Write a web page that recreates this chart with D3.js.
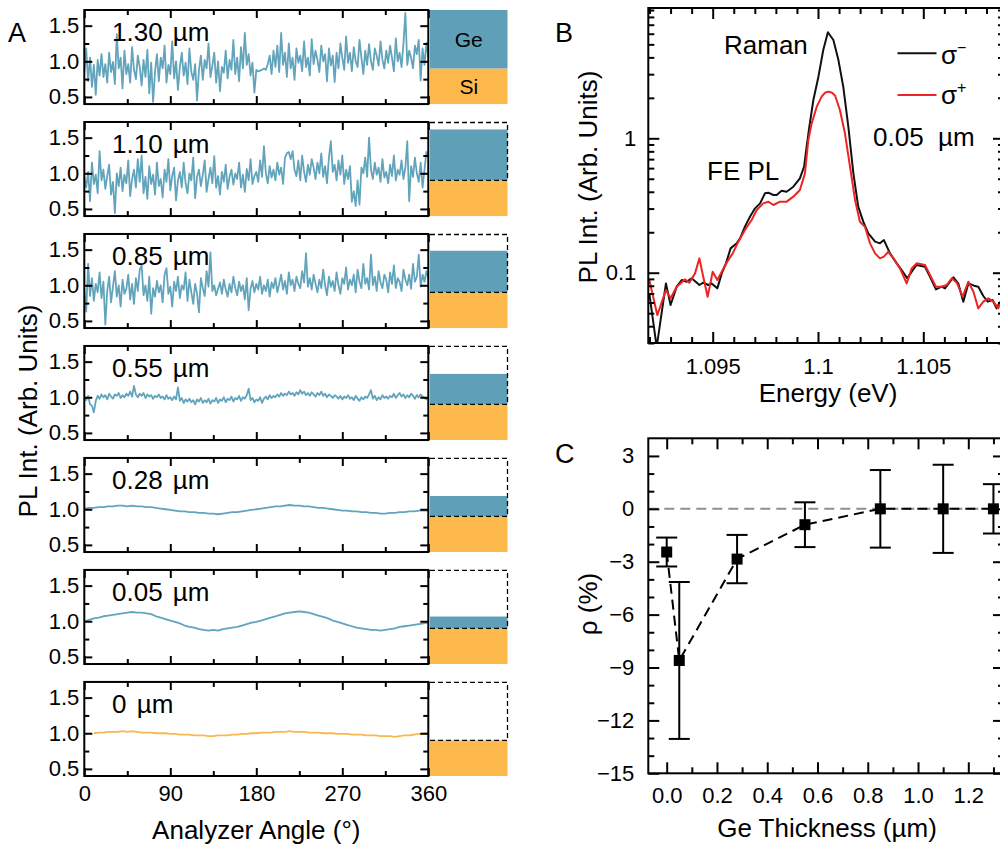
<!DOCTYPE html>
<html><head><meta charset="utf-8">
<script src="https://cdn.jsdelivr.net/npm/d3@7"></script>
<style>
body{margin:0;background:#fff}
svg{display:block}
text{font-family:"Liberation Sans",Arial,Helvetica,sans-serif;fill:#000}
</style>
</head><body>
<svg id="c" width="1000" height="844"></svg>
<script>
// ---------------- DATA ----------------
// Panel A
const rowLabels = ["1.30 µm","1.10 µm","0.85 µm","0.55 µm","0.28 µm","0.05 µm","0 µm"];
const geThickness = [1.30,1.10,0.85,0.55,0.28,0.05,0];
const angleMajor = [0,90,180,270,360];
const angleMinor = [45,135,225,315];
const plMajor = [0.5,1.0,1.5];
const plMinor = [0.75,1.25];
// traces sampled every 2 deg from 0 to 360
const trace130 = [
0.85,1.18,0.72,1.05,0.64,0.95,0.53,1.02,0.80,1.10,
0.78,0.96,0.70,1.12,0.85,0.99,0.68,1.38,0.90,1.05,
0.62,1.15,0.82,0.96,0.70,1.20,0.88,0.75,1.08,0.92,
0.66,1.02,0.78,1.16,0.55,0.98,0.43,0.85,1.10,0.72,
1.05,0.90,1.22,0.70,0.95,0.82,1.28,0.76,1.00,0.60,
0.92,1.12,0.80,0.98,0.68,1.18,0.85,0.74,0.96,0.45,
0.88,1.08,0.74,1.02,0.90,1.25,0.78,0.94,1.12,0.70,
1.00,0.58,0.92,0.84,1.15,0.76,1.02,0.88,1.30,0.82,
1.05,0.72,1.20,0.90,1.40,0.95,1.10,0.80,0.98,0.56,
0.88,0.86,0.87,0.88,0.90,0.88,0.96,1.08,0.82,1.15,
0.92,1.22,0.85,1.40,0.95,1.12,0.78,1.25,0.90,1.05,
0.74,1.18,0.98,1.08,0.86,1.28,0.92,1.05,0.80,1.31,
0.96,1.15,1.02,0.85,1.22,1.00,1.10,0.72,1.18,0.94,
1.08,0.71,1.12,0.90,1.25,1.05,0.88,1.35,0.98,1.12,
0.86,1.20,1.00,0.92,1.30,1.05,0.82,1.15,0.95,1.24,
1.00,0.88,1.18,1.08,0.94,1.28,1.02,0.90,1.15,0.98,
1.22,1.05,0.86,1.32,1.00,1.12,0.92,1.25,1.68,0.95,
1.15,1.05,0.90,1.22,1.10,1.30,0.73,1.18,0.95,1.26,
1.05];
const trace110 = [
0.95,0.80,1.02,0.61,1.15,0.85,0.98,0.72,1.31,0.90,
1.05,0.78,0.96,1.12,0.70,0.88,0.44,1.00,0.82,1.08,
0.75,0.98,0.86,1.18,0.68,0.92,1.05,0.80,1.20,0.88,
1.25,0.72,0.95,0.64,1.10,0.85,0.98,0.70,1.15,0.82,
0.92,0.66,1.05,0.88,1.20,0.76,0.96,1.08,0.62,0.90,
1.02,0.80,1.15,0.86,0.72,1.00,0.90,1.22,0.65,0.95,
1.05,0.82,0.98,1.18,0.74,0.92,1.08,0.86,1.24,0.80,
0.96,0.70,1.02,0.88,1.12,0.78,0.95,1.05,0.84,1.00,
0.92,1.15,0.80,0.98,0.74,1.06,0.90,1.20,0.85,0.96,
1.02,0.88,1.18,0.95,1.38,1.00,0.86,1.10,0.94,1.05,
0.90,1.15,0.98,1.08,0.85,1.22,1.28,1.30,1.20,1.31,
1.05,0.96,1.18,0.90,1.25,1.02,0.88,1.12,0.98,1.20,
1.08,0.92,1.15,1.00,1.28,0.95,1.10,0.86,1.22,1.45,
1.02,1.12,0.90,1.18,0.98,1.25,0.85,1.05,0.92,1.10,
0.60,0.75,0.54,0.90,0.56,1.08,1.00,1.22,0.95,1.50,
1.05,0.92,1.15,0.98,1.08,0.88,1.20,0.94,1.02,0.86,
1.12,0.96,1.25,0.90,1.05,0.98,1.18,0.92,1.08,1.45,
0.61,1.10,0.95,1.22,1.00,0.88,1.15,0.80,1.05,1.30,
1.25];
const trace085 = [
0.95,0.63,1.30,0.85,1.10,0.78,1.02,0.90,1.18,0.82,
1.05,0.45,0.92,1.12,0.76,0.98,1.20,0.84,1.00,0.70,
1.08,0.88,0.95,1.15,0.80,1.02,0.74,1.10,0.92,1.22,
1.28,0.86,1.00,0.78,1.12,0.60,0.96,0.84,1.06,0.90,
1.00,0.76,1.15,1.24,0.88,0.98,0.70,1.05,0.92,1.12,
0.82,1.00,0.94,1.18,0.78,1.08,0.90,0.74,1.02,0.88,
0.62,1.10,0.96,0.85,1.20,0.98,1.46,0.92,1.00,0.86,
0.95,1.04,0.88,1.08,0.94,0.84,1.02,0.90,1.12,0.96,
0.86,1.05,0.92,1.00,0.80,1.10,0.65,0.95,1.06,0.90,
1.02,0.94,1.12,0.88,1.00,0.92,1.08,0.84,1.04,0.96,
1.10,0.90,1.02,1.15,0.94,1.06,0.88,1.18,1.00,1.08,
0.92,1.12,1.02,0.96,1.20,1.04,1.45,0.98,1.10,0.94,
1.15,1.02,0.90,1.08,0.96,1.22,1.00,0.86,1.12,0.98,
1.06,0.92,1.18,1.00,0.88,1.10,1.02,1.25,0.94,1.08,
1.00,1.15,0.90,1.22,1.05,0.96,1.30,1.02,1.10,0.94,
1.43,1.00,1.12,0.92,1.20,1.04,0.96,1.15,1.08,0.90,
1.18,1.02,1.28,0.96,1.10,1.05,0.92,1.22,1.08,1.00,
1.15,0.95,1.30,1.05,1.12,1.43,0.98,1.15,1.05,1.20,
1.10];
const trace055 = [
1.00,0.96,1.02,0.90,0.88,0.79,0.95,1.02,0.98,1.04,
1.00,1.03,0.97,1.05,1.01,0.98,1.04,1.02,1.06,0.99,
1.03,1.00,1.05,1.02,1.08,1.01,1.16,1.04,1.00,1.05,
1.02,1.06,0.99,1.04,1.01,1.03,0.98,1.02,1.00,1.04,
0.99,1.01,0.97,1.03,0.98,1.00,0.96,1.01,0.97,1.14,
0.95,0.99,0.92,0.97,0.94,0.98,0.93,0.96,0.90,0.97,
0.94,0.99,0.92,0.96,0.93,0.98,0.91,0.96,0.94,0.99,
0.92,0.97,0.95,1.00,0.93,0.98,0.96,1.01,0.94,0.99,
0.97,1.02,0.95,1.00,0.98,1.03,1.12,0.96,0.99,0.93,
0.97,0.95,1.00,0.92,0.98,1.01,0.97,1.03,0.99,1.02,
1.00,1.04,1.01,1.06,1.02,1.05,1.03,1.08,1.04,1.06,
1.02,1.07,1.04,1.10,1.05,1.08,1.03,1.06,1.02,1.07,
1.04,1.01,1.06,1.03,1.08,1.02,1.05,1.00,1.04,1.02,
0.99,1.03,1.01,0.98,1.02,0.97,1.01,0.99,1.03,0.98,
1.00,0.96,1.02,0.98,0.95,1.00,0.97,1.01,0.99,1.04,
1.10,0.98,1.02,0.96,1.00,0.97,1.03,0.99,1.01,0.98,
1.02,1.00,1.05,0.99,1.03,1.06,1.01,1.04,0.99,1.03,
1.00,1.05,1.02,0.98,1.03,1.00,1.04,1.01,0.99,0.97,
1.00];
// traces sampled every 5 deg
const trace028 = [
1.01,1.02,1.02,1.03,1.03,1.04,1.04,1.05,1.05,1.04,1.05,1.04,1.04,1.03,1.03,1.02,1.01,1.00,
0.99,0.98,0.97,0.97,0.96,0.96,0.95,0.95,0.94,0.94,0.93,0.94,0.95,0.96,0.96,0.97,0.98,0.99,
1.00,1.01,1.02,1.03,1.04,1.04,1.05,1.06,1.05,1.05,1.04,1.04,1.03,1.02,1.02,1.01,1.00,0.99,
0.98,0.98,0.97,0.97,0.96,0.96,0.95,0.95,0.94,0.94,0.95,0.95,0.96,0.96,0.97,0.97,0.98,0.98,
0.98];
const trace005 = [
1.00,1.02,1.04,1.05,1.07,1.08,1.09,1.10,1.11,1.12,1.13,1.12,1.12,1.11,1.10,1.07,1.05,1.03,
1.01,0.99,0.97,0.94,0.92,0.91,0.89,0.88,0.87,0.88,0.87,0.89,0.90,0.91,0.92,0.94,0.96,0.98,
0.99,1.01,1.03,1.05,1.07,1.09,1.11,1.12,1.13,1.14,1.13,1.12,1.10,1.08,1.06,1.04,1.01,0.99,
0.97,0.95,0.93,0.91,0.90,0.89,0.88,0.88,0.87,0.88,0.89,0.90,0.92,0.93,0.94,0.95,0.96,0.97,
0.98];
// bare Si, sampled every 5 deg from 10 to 360
const trace000 = [
1.00,1.01,1.01,1.02,1.02,1.02,1.03,1.02,1.03,1.02,1.01,1.01,1.01,1.00,1.00,1.00,
0.99,0.99,0.98,0.98,0.98,0.97,0.97,0.97,0.96,0.96,0.97,0.97,0.97,0.98,0.98,0.99,0.99,1.00,
1.00,1.01,1.01,1.01,1.02,1.02,1.02,1.03,1.02,1.02,1.02,1.01,1.01,1.01,1.00,1.00,1.00,
0.99,0.99,0.99,0.98,0.98,0.98,0.97,0.97,0.97,0.96,0.96,0.96,0.95,0.96,0.97,0.97,0.98,0.99,0.99,
1.00];

// Panel B
const energyBlack = [1.09199,1.09234,1.09278,1.09300,1.09329,1.09353,1.09376,1.09400,1.09437,1.09455,
1.09479,1.09495,1.09522,1.09543,1.09563,1.09585,1.09614,1.09630,1.09653,1.09677,
1.09701,1.09725,1.09748,1.09764,1.09788,1.09804,1.09827,1.09851,1.09883,1.09914,
1.09934,1.09946,1.09959,1.09978,1.10002,1.10025,1.10047,1.10073,1.10097,1.10120,
1.10144,1.10168,1.10191,1.10215,1.10239,1.10271,1.10294,1.10313,1.10342,1.10374,
1.10397,1.10424,1.10445,1.10468,1.10508,1.10532,1.10560,1.10587,1.10603,1.10627,
1.10643,1.10666,1.10690,1.10714,1.10741,1.10761,1.10785,1.10806,1.10829,1.10848,1.10864];
const plBlack = [0.0702,0.028,0.0833,0.0575,0.0787,0.0882,0.0857,0.0908,0.0810,0.0843,
0.0810,0.0833,0.0765,0.0989,0.1174,0.1518,0.1654,0.1801,0.2201,0.2611,
0.3012,0.3282,0.3895,0.3940,0.3786,0.3786,0.4076,0.4007,0.4366,0.5036,
0.6150,0.8665,1.220,1.927,2.874,4.539,6.15,5.39,3.82,2.42,
1.221,0.5486,0.310,0.2397,0.1963,0.1702,0.1654,0.1750,0.1393,0.1174,
0.1047,0.0908,0.1018,0.1141,0.1109,0.0934,0.0752,0.0787,0.0765,0.0857,
0.0923,0.0833,0.0609,0.0833,0.0801,0.0787,0.0671,0.0609,0.0626,0.0543,0.0609];
const energyRed = [1.09199,1.09237,1.09278,1.09300,1.09329,1.09368,1.09389,1.09416,1.09437,1.09455,
1.09476,1.09500,1.09522,1.09543,1.09569,1.09595,1.09622,1.09653,1.09685,1.09709,
1.09740,1.09764,1.09788,1.09820,1.09851,1.09883,1.09914,1.09938,1.09954,1.09970,
1.09994,1.10017,1.10033,1.10049,1.10065,1.10081,1.10104,1.10128,1.10152,1.10176,
1.10199,1.10223,1.10247,1.10271,1.10294,1.10313,1.10334,1.10358,1.10389,1.10421,
1.10445,1.10468,1.10508,1.10532,1.10560,1.10587,1.10611,1.10635,1.10659,1.10687,
1.10714,1.10738,1.10761,1.10785,1.10809,1.10833,1.10856,1.10864];
const plRed = [0.0882,0.0484,0.0743,0.0645,0.0787,0.0892,0.0843,0.0989,0.1279,0.0934,
0.0663,0.1018,0.0882,0.1018,0.1208,0.1393,0.1702,0.2078,0.2466,0.2927,
0.3282,0.3377,0.3190,0.3377,0.3377,0.3679,0.4123,0.5486,0.9712,1.292,
1.719,2.040,2.180,2.223,2.190,2.080,1.624,1.089,0.615,0.3474,
0.2397,0.2201,0.1654,0.1393,0.1279,0.1316,0.1433,0.1279,0.1078,0.0833,
0.1078,0.1174,0.1141,0.0961,0.0787,0.0787,0.0810,0.0908,0.0843,0.0663,
0.0857,0.0722,0.0543,0.0609,0.0645,0.0609,0.0543,0.0592];
const energyMajor = [1.095,1.1,1.105];
const plLogMajor = [0.1,1];
const plLogMinor = [0.03,0.04,0.05,0.06,0.07,0.08,0.09,0.2,0.3,0.4,0.5,0.6,0.7,0.8,0.9,2,3,4,5,6,7,8,9];

// Panel C
const geThick = [0,0.05,0.28,0.55,0.85,1.10,1.30];
const rho = [-2.45,-8.6,-2.85,-0.9,0,0,0];
const rhoErr = [0.82,4.45,1.37,1.27,2.2,2.5,1.4];
const thickMajor = [0,0.2,0.4,0.6,0.8,1.0,1.2];
const thickMinor = [0.1,0.3,0.5,0.7,0.9,1.1,1.3];
const rhoMajor = [3,0,-3,-6,-9,-12,-15];
const rhoMinor = [2,1,-1,-2,-4,-5,-7,-8,-10,-11,-13,-14];

// ---------------- DRAWING ----------------
const svg = d3.select("#c");
const FONT = '"Liberation Sans",Arial,Helvetica,sans-serif';
const BLUE = "#62a4bc", GEBOX = "#5fa0b8", SIBOX = "#fdb84b", ORANGE = "#f9b74f";

function addAxis(g, axisFn, scale, tr, values, len, fmt, pad, fs) {
  const a = axisFn(scale).tickValues(values).tickSize(-len).tickPadding(pad || 3)
    .tickFormat(fmt || (() => ""));
  const s = g.append("g").attr("transform", tr).call(a);
  s.select(".domain").remove();
  s.attr("font-family", null).attr("font-size", null);
  s.selectAll("line").attr("stroke", "#000").attr("stroke-width", 2);
  s.selectAll("text").attr("fill", "#000").style("font-size", (fs || 22) + "px").style("font-family", FONT);
  return s;
}
function frame(g, x0, y0, x1, y1) {
  g.append("rect").attr("x", x0).attr("y", y0).attr("width", x1 - x0).attr("height", y1 - y0)
    .attr("fill", "none").attr("stroke", "#000").attr("stroke-width", 2);
}

// ---- Panel A ----
const series = [
  {vals: trace130, start: 0, step: 2, color: BLUE},
  {vals: trace110, start: 0, step: 2, color: BLUE},
  {vals: trace085, start: 0, step: 2, color: BLUE},
  {vals: trace055, start: 0, step: 2, color: BLUE},
  {vals: trace028, start: 0, step: 5, color: BLUE},
  {vals: trace005, start: 0, step: 5, color: BLUE},
  {vals: trace000, start: 10, step: 5, color: ORANGE}
];
const xA = d3.scaleLinear().domain([0, 360]).range([84.3, 428.3]);
const band = d3.scaleBand().domain(rowLabels).range([10, 776]).paddingInner(0.16).paddingOuter(0);
const geScale = d3.scaleLinear().domain([0, d3.max(geThickness)]).range([0.14, 0.82]);
const bx0 = 430, bx1 = 507.5;

rowLabels.forEach((lab, i) => {
  const s = series[i], t = geThickness[i];
  const top = band(lab), bot = top + band.bandwidth();
  const y = d3.scaleLinear().domain([0.4, 1.72]).range([bot, top]);
  const g = svg.append("g");
  const cid = "clipA" + i;
  svg.append("clipPath").attr("id", cid).append("rect")
    .attr("x", xA(0)).attr("y", top).attr("width", xA(360) - xA(0)).attr("height", bot - top);
  const pts = s.vals.map((v, k) => [s.start + k * s.step, v]);
  g.append("path").datum(pts).attr("clip-path", `url(#${cid})`)
    .attr("d", d3.line().x(d => xA(d[0])).y(d => y(d[1])))
    .attr("fill", "none").attr("stroke", s.color).attr("stroke-width", 1.8).attr("stroke-linejoin", "round");

  // layer sketch box
  g.append("rect").attr("x", bx0).attr("y", y(0.9)).attr("width", bx1 - bx0).attr("height", y(0.4) - y(0.9)).attr("fill", SIBOX);
  if (t > 0) {
    const yt = y(0.9 + geScale(t));
    g.append("rect").attr("x", bx0).attr("y", yt).attr("width", bx1 - bx0).attr("height", y(0.9) - yt).attr("fill", GEBOX);
  }
  if (t < d3.max(geThickness)) {
    g.append("path").attr("d", `M${bx0},${top + 0.5}H${bx1}V${y(0.9)}M${bx0},${y(0.9)}H${bx1}`)
      .attr("fill", "none").attr("stroke", "#000").attr("stroke-width", 1.3).attr("stroke-dasharray", "5,3");
  } else {
    g.append("text").attr("x", (bx0 + bx1) / 2).attr("y", (top + y(0.9)) / 2 + 7.5).attr("text-anchor", "middle")
      .style("font-size", "21px").text("Ge");
    g.append("text").attr("x", (bx0 + bx1) / 2).attr("y", (y(0.9) + bot) / 2 + 7.5).attr("text-anchor", "middle")
      .style("font-size", "21px").text("Si");
  }

  frame(g, xA(0), top, xA(360), bot);
  const last = i === rowLabels.length - 1;
  addAxis(g, d3.axisBottom, xA, `translate(0,${bot})`, angleMinor, 5);
  addAxis(g, d3.axisBottom, xA, `translate(0,${bot})`, angleMajor, 8, last ? d3.format("d") : null, 9.5);
  addAxis(g, d3.axisTop, xA, `translate(0,${top})`, angleMinor, 5);
  addAxis(g, d3.axisTop, xA, `translate(0,${top})`, angleMajor, 8);
  addAxis(g, d3.axisLeft, y, `translate(${xA(0)},0)`, plMinor, 5);
  addAxis(g, d3.axisLeft, y, `translate(${xA(0)},0)`, plMajor, 8, d3.format(".1f"), 5);
  addAxis(g, d3.axisRight, y, `translate(${xA(360)},0)`, plMinor, 5);
  addAxis(g, d3.axisRight, y, `translate(${xA(360)},0)`, plMajor, 8);

  g.append("text").attr("x", 112).attr("y", top + 31).style("font-size", "26px").style("word-spacing", "3px").text(lab);
});
svg.append("text").attr("x", 8).attr("y", 42).style("font-size", "27px").text("A");
svg.append("text").attr("x", (xA(0) + xA(360)) / 2).attr("y", 839).attr("text-anchor", "middle")
  .style("font-size", "26px").text("Analyzer Angle (°)");
svg.append("text").attr("transform", "translate(37,411) rotate(-90)").attr("text-anchor", "middle")
  .style("font-size", "26px").text("PL Int. (Arb. Units)");

// ---- Panel B ----
const xB = d3.scaleLinear().domain([1.095, 1.105]).range([712.7, 923.3]);
const bL = 648.3, bR = 1004, bT = 8, bB = 343;
const yB = d3.scaleLog().domain([0.03, 9.32]).range([bB, bT]);
const gB = svg.append("g");
svg.append("clipPath").attr("id", "clipB").append("rect").attr("x", bL).attr("y", bT).attr("width", bR - bL).attr("height", bB - bT);
const lineB = d3.line().x(d => xB(d[0])).y(d => yB(d[1]));
gB.append("path").datum(energyBlack.map((e, k) => [e, plBlack[k]])).attr("clip-path", "url(#clipB)")
  .attr("d", lineB).attr("fill", "none").attr("stroke", "#111").attr("stroke-width", 2).attr("stroke-linejoin", "round");
gB.append("path").datum(energyRed.map((e, k) => [e, plRed[k]])).attr("clip-path", "url(#clipB)")
  .attr("d", lineB).attr("fill", "none").attr("stroke", "#ee2424").attr("stroke-width", 2).attr("stroke-linejoin", "round");
frame(gB, bL, bT, bR, bB);
const eMinor = d3.range(1092, 1109).map(d => d / 1000).filter(d => !energyMajor.some(m => Math.abs(m - d) < 1e-9));
const fmtB = d => String(+(+d).toFixed(3));
addAxis(gB, d3.axisBottom, xB, `translate(0,${bB})`, eMinor, 6);
addAxis(gB, d3.axisBottom, xB, `translate(0,${bB})`, energyMajor, 11, fmtB, 15, 22);
addAxis(gB, d3.axisTop, xB, `translate(0,${bT})`, eMinor, 6);
addAxis(gB, d3.axisTop, xB, `translate(0,${bT})`, energyMajor, 11);
addAxis(gB, d3.axisLeft, yB, `translate(${bL},0)`, plLogMinor, 6);
addAxis(gB, d3.axisLeft, yB, `translate(${bL},0)`, plLogMajor, 11, fmtB, 12, 22);
addAxis(gB, d3.axisRight, yB, `translate(${bR},0)`, plLogMinor, 6);
addAxis(gB, d3.axisRight, yB, `translate(${bR},0)`, plLogMajor, 11);
svg.append("text").attr("x", 555).attr("y", 42).style("font-size", "27px").text("B");
svg.append("text").attr("x", 828).attr("y", 402).attr("text-anchor", "middle").style("font-size", "26px").text("Energy (eV)");
svg.append("text").attr("transform", "translate(597,177) rotate(-90)").attr("text-anchor", "middle")
  .style("font-size", "26px").text("PL Int. (Arb. Units)");
svg.append("text").attr("x", 724).attr("y", 54).style("font-size", "26px").text("Raman");
svg.append("text").attr("x", 707).attr("y", 180).style("font-size", "26px").text("FE PL");
svg.append("text").attr("x", 873).attr("y", 146).style("font-size", "26px").style("white-space", "pre").text("0.05  µm");
// legend
[["#111", "−", 53.3, 64], ["#ee2424", "+", 95, 104]].forEach(([c, sup, ly, ty]) => {
  gB.append("line").attr("x1", 897.5).attr("x2", 936.5).attr("y1", ly).attr("y2", ly).attr("stroke", c).attr("stroke-width", 2);
  const tx = gB.append("text").attr("x", 941).attr("y", ty).style("font-size", "26px");
  tx.append("tspan").text("σ");
  tx.append("tspan").attr("dy", -11).style("font-size", "16px").text(sup);
});

// ---- Panel C ----
const cL = 648.3, cR = 1004, cT = 438.3, cB = 773.3;
const xC = d3.scaleLinear().domain([0, 1.2]).range([666.7, 968.3]);
const yC = d3.scaleLinear().domain([-15, 4]).range([cB, cT]);
const gC = svg.append("g");
svg.append("clipPath").attr("id", "clipC").append("rect").attr("x", cL).attr("y", cT).attr("width", cR - cL).attr("height", cB - cT);
gC.append("line").attr("x1", cL).attr("x2", cR).attr("y1", yC(0)).attr("y2", yC(0))
  .attr("stroke", "#8f8f8f").attr("stroke-width", 2).attr("stroke-dasharray", "10,6");
const ptsC = geThick.map((t, k) => [t, rho[k], rhoErr[k]]);
gC.append("path").datum(ptsC).attr("clip-path", "url(#clipC)")
  .attr("d", d3.line().x(d => xC(d[0])).y(d => yC(d[1])))
  .attr("fill", "none").attr("stroke", "#000").attr("stroke-width", 2).attr("stroke-dasharray", "10,6");
const eb = gC.append("g").attr("stroke", "#000").attr("stroke-width", 2);
ptsC.forEach(d => {
  const x = xC(d[0]), y1 = yC(d[1] + d[2]), y2 = yC(d[1] - d[2]);
  eb.append("line").attr("x1", x).attr("x2", x).attr("y1", y1).attr("y2", y2);
  eb.append("line").attr("x1", x - 10.5).attr("x2", x + 10.5).attr("y1", y1).attr("y2", y1);
  eb.append("line").attr("x1", x - 10.5).attr("x2", x + 10.5).attr("y1", y2).attr("y2", y2);
});
gC.selectAll("rect.pt").data(ptsC).join("rect").attr("class", "pt")
  .attr("x", d => xC(d[0]) - 5.5).attr("y", d => yC(d[1]) - 5.5).attr("width", 11).attr("height", 11).attr("fill", "#000");
frame(gC, cL, cT, cR, cB);
addAxis(gC, d3.axisBottom, xC, `translate(0,${cB})`, thickMinor, 6);
addAxis(gC, d3.axisBottom, xC, `translate(0,${cB})`, thickMajor, 11, d3.format(".1f"), 14.5, 22);
addAxis(gC, d3.axisTop, xC, `translate(0,${cT})`, thickMinor, 6);
addAxis(gC, d3.axisTop, xC, `translate(0,${cT})`, thickMajor, 11);
addAxis(gC, d3.axisLeft, yC, `translate(${cL},0)`, rhoMinor, 6);
addAxis(gC, d3.axisLeft, yC, `translate(${cL},0)`, rhoMajor, 11, d3.format("d"), 14, 22);
addAxis(gC, d3.axisRight, yC, `translate(${cR},0)`, rhoMinor, 6);
addAxis(gC, d3.axisRight, yC, `translate(${cR},0)`, rhoMajor, 11);
svg.append("text").attr("x", 555).attr("y", 463).style("font-size", "27px").text("C");
svg.append("text").attr("x", 827).attr("y", 837).attr("text-anchor", "middle").style("font-size", "26px").text("Ge Thickness (µm)");
svg.append("text").attr("transform", "translate(597,604) rotate(-90)").attr("text-anchor", "middle")
  .style("font-size", "26px").text("ρ (%)");
</script>
</body></html>
